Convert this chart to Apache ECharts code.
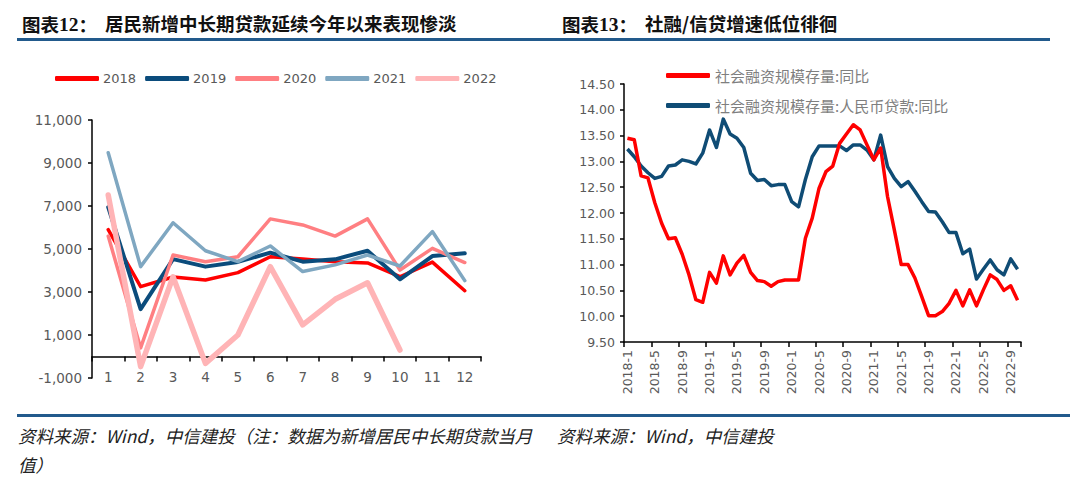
<!DOCTYPE html>
<html>
<head>
<meta charset="utf-8">
<script src="https://cdn.jsdelivr.net/npm/echarts@6/dist/echarts.min.js"></script>
<style>
html,body{margin:0;padding:0;background:#fff;}
#c{width:1080px;height:481px;}
</style>
</head>
<body>
<div id="c"></div>
<script>
// ---------- Left chart data: 居民新增中长期贷款 (亿元) ----------
const months = ['1','2','3','4','5','6','7','8','9','10','11','12'];
const y2018 = [5900, 3250, 3700, 3560, 3900, 4640, 4530, 4410, 4350, 3710, 4390, 3060];
const y2019 = [6950, 2200, 4530, 4180, 4400, 4830, 4410, 4520, 4920, 3590, 4670, 4800];
const y2020 = [5600, 400, 4720, 4410, 4640, 6400, 6120, 5600, 6400, 4020, 5030, 4370];
const y2021 = [9480, 4180, 6220, 4920, 4410, 5140, 3950, 4260, 4720, 4210, 5810, 3530];
const y2022 = [7510, -470, 3710, -320, 1000, 4180, 1470, 2660, 3430, 300];
const leftYearNames = ['2018', '2019', '2020', '2021', '2022'];

// ---------- Right chart data: 社融 / 信贷 同比 (%) ----------
const dates = ['2018-1','2018-2','2018-3','2018-4','2018-5','2018-6','2018-7','2018-8','2018-9','2018-10','2018-11','2018-12',
  '2019-1','2019-2','2019-3','2019-4','2019-5','2019-6','2019-7','2019-8','2019-9','2019-10','2019-11','2019-12',
  '2020-1','2020-2','2020-3','2020-4','2020-5','2020-6','2020-7','2020-8','2020-9','2020-10','2020-11','2020-12',
  '2021-1','2021-2','2021-3','2021-4','2021-5','2021-6','2021-7','2021-8','2021-9','2021-10','2021-11','2021-12',
  '2022-1','2022-2','2022-3','2022-4','2022-5','2022-6','2022-7','2022-8','2022-9','2022-10'];
const sfStock = [13.45, 13.42, 12.72, 12.68, 12.2, 11.8, 11.5, 11.52, 11.2, 10.8, 10.32, 10.27,
  10.85, 10.64, 11.17, 10.8, 11.03, 11.18, 10.85, 10.69, 10.67, 10.58, 10.67, 10.7,
  10.7, 10.7, 11.51, 11.9, 12.48, 12.8, 12.91, 13.35, 13.53, 13.71, 13.61, 13.32,
  13.03, 13.26, 12.32, 11.67, 11.0, 11.0, 10.74, 10.38, 10.01, 10.01, 10.09, 10.25,
  10.5, 10.2, 10.51, 10.2, 10.51, 10.8, 10.71, 10.5, 10.59, 10.31];
const sfLoans = [13.24, 13.09, 12.91, 12.78, 12.67, 12.71, 12.91, 12.93, 13.03, 13.0, 12.95, 13.16,
  13.61, 13.27, 13.82, 13.53, 13.45, 13.27, 12.77, 12.63, 12.65, 12.53, 12.55, 12.55,
  12.22, 12.12, 12.65, 13.09, 13.3, 13.3, 13.3, 13.3, 13.21, 13.32, 13.32, 13.22,
  13.03, 13.51, 12.9, 12.67, 12.51, 12.61, 12.42, 12.22, 12.03, 12.02, 11.83, 11.62,
  11.62, 11.21, 11.3, 10.72, 10.91, 11.09, 10.9, 10.8, 11.11, 10.91];
const rightNames = ['社会融资规模存量:同比', '社会融资规模存量:人民币贷款:同比'];

// ---------- Text ----------
const leftTitleNo = '12';
const leftTitle = '居民新增中长期贷款延续今年以来表现惨淡';
const rightTitleNo = '13';
const rightTitle = '社融/信贷增速低位徘徊';
const leftSource1 = '资料来源：Wind，中信建投（注：数据为新增居民中长期贷款当月';
const leftSource2 = '值）';
const rightSource = '资料来源：Wind，中信建投';

const chart = echarts.init(document.getElementById('c'), null, {renderer: 'svg'});

const leftColors = ['#FF0000', '#0B4C7C', '#FF7F82', '#7FA7C1', '#FFB4B6'];
const leftWidths = [3.5, 4, 3.5, 3.5, 5.5];
const leftSeriesData = [y2018, y2019, y2020, y2021, y2022];

const cjk = '"Noto Sans CJK SC", "Noto Sans", sans-serif';
const num = '"DejaVu Sans", sans-serif';

const titleRich = {
  a: {fontFamily: cjk, fontWeight: 'bold', fontSize: 18.5, color: '#111'},
  n: {fontFamily: '"Liberation Serif", serif', fontWeight: 'bold', fontSize: 19.5, color: '#111'}
};

const series = [];
leftSeriesData.forEach((d, i) => {
  series.push({
    name: leftYearNames[i], type: 'line', xAxisIndex: 0, yAxisIndex: 0,
    data: d, symbol: 'none', smooth: false,
    lineStyle: {color: leftColors[i], width: leftWidths[i], cap: 'round', join: 'round'},
    itemStyle: {color: leftColors[i]},
    z: 2 + i
  });
});
series.push({
  name: rightNames[0], type: 'line', xAxisIndex: 1, yAxisIndex: 1,
  data: sfStock, symbol: 'none',
  lineStyle: {color: '#FF0000', width: 3.5, join: 'round'}, itemStyle: {color: '#FF0000'}, z: 3
});
series.push({
  name: rightNames[1], type: 'line', xAxisIndex: 1, yAxisIndex: 1,
  data: sfLoans, symbol: 'none',
  lineStyle: {color: '#0F4C75', width: 3.5, join: 'round'}, itemStyle: {color: '#0F4C75'}, z: 2
});

const option = {
  backgroundColor: '#fff',
  animation: false,
  title: [
    {text: '{a|图表}{n|' + leftTitleNo + '}{a|：}', left: 17, top: 9, textStyle: {rich: titleRich}},
    {text: leftTitle, left: 100, top: 9, textStyle: {fontFamily: cjk, fontWeight: 'bold', fontSize: 18.5, color: '#111'}},
    {text: '{a|图表}{n|' + rightTitleNo + '}{a|：}', left: 557, top: 9, textStyle: {rich: titleRich}},
    {text: rightTitle, left: 640, top: 9, textStyle: {fontFamily: cjk, fontWeight: 'bold', fontSize: 18.5, color: '#111'}}
  ],
  legend: [
    {
      data: leftYearNames, left: 50, top: 67, icon: 'roundRect',
      itemWidth: 44, itemHeight: 5, itemGap: 9,
      textStyle: {fontFamily: num, fontSize: 13, color: '#595959', padding: [0, 0, 0, -1]}
    },
    {
      data: rightNames, left: 661, top: 63, orient: 'vertical', icon: 'roundRect',
      itemWidth: 44, itemHeight: 5, itemGap: 15,
      textStyle: {fontFamily: cjk, fontSize: 15, color: '#7F7F7F'}
    }
  ],
  grid: [
    {left: 92, width: 389, top: 120, height: 258},
    {left: 624, width: 397, top: 84, height: 258}
  ],
  xAxis: [
    {
      type: 'category', gridIndex: 0, data: months, boundaryGap: true,
      axisLine: {onZero: true, lineStyle: {color: '#000', width: 1.5}},
      axisTick: {show: true, interval: 0, length: 5, lineStyle: {color: '#000', width: 1.5}},
      axisLabel: {interval: 0, margin: -8, fontFamily: num, fontSize: 13.5, color: '#595959'},
      splitLine: {show: false}
    },
    {
      type: 'category', gridIndex: 1, data: dates, boundaryGap: true,
      axisLine: {onZero: false, lineStyle: {color: '#000', width: 1.5}},
      axisTick: {show: true, interval: 3, length: 5, lineStyle: {color: '#000', width: 1.5}},
      axisLabel: {interval: 3, rotate: 90, margin: 8, fontFamily: num, fontSize: 12.5, color: '#595959'},
      splitLine: {show: false}
    }
  ],
  yAxis: [
    {
      type: 'value', gridIndex: 0, min: -1000, max: 11000, interval: 2000,
      axisLine: {show: true, lineStyle: {color: '#000', width: 1.5}},
      axisTick: {show: true, length: 4, lineStyle: {color: '#000', width: 1.5}},
      axisLabel: {margin: 10, fontFamily: num, fontSize: 13.5, color: '#595959',
        formatter: v => v.toLocaleString('en-US')},
      splitLine: {show: false}
    },
    {
      type: 'value', gridIndex: 1, min: 9.5, max: 14.5, interval: 0.5,
      axisLine: {show: true, lineStyle: {color: '#000', width: 1.5}},
      axisTick: {show: true, length: 4, lineStyle: {color: '#000', width: 1.5}},
      axisLabel: {margin: 9, fontFamily: num, fontSize: 12.5, color: '#595959',
        formatter: v => v.toFixed(2)},
      splitLine: {show: false}
    }
  ],
  graphic: [
    {type: 'rect', shape: {x: 17, y: 38, width: 1033, height: 3}, style: {fill: '#225A8C'}, silent: true},
    {type: 'rect', shape: {x: 17, y: 414, width: 1053, height: 3}, style: {fill: '#225A8C'}, silent: true},
    {type: 'text', left: 18, top: 427, style: {text: leftSource1, font: 'italic 17.5px ' + cjk, fill: '#222'}},
    {type: 'text', left: 18, top: 456, style: {text: leftSource2, font: 'italic 17.5px ' + cjk, fill: '#222'}},
    {type: 'text', left: 557, top: 427, style: {text: rightSource, font: 'italic 17.5px ' + cjk, fill: '#222'}}
  ],
  series: series
};
chart.setOption(option);
</script>
</body>
</html>
